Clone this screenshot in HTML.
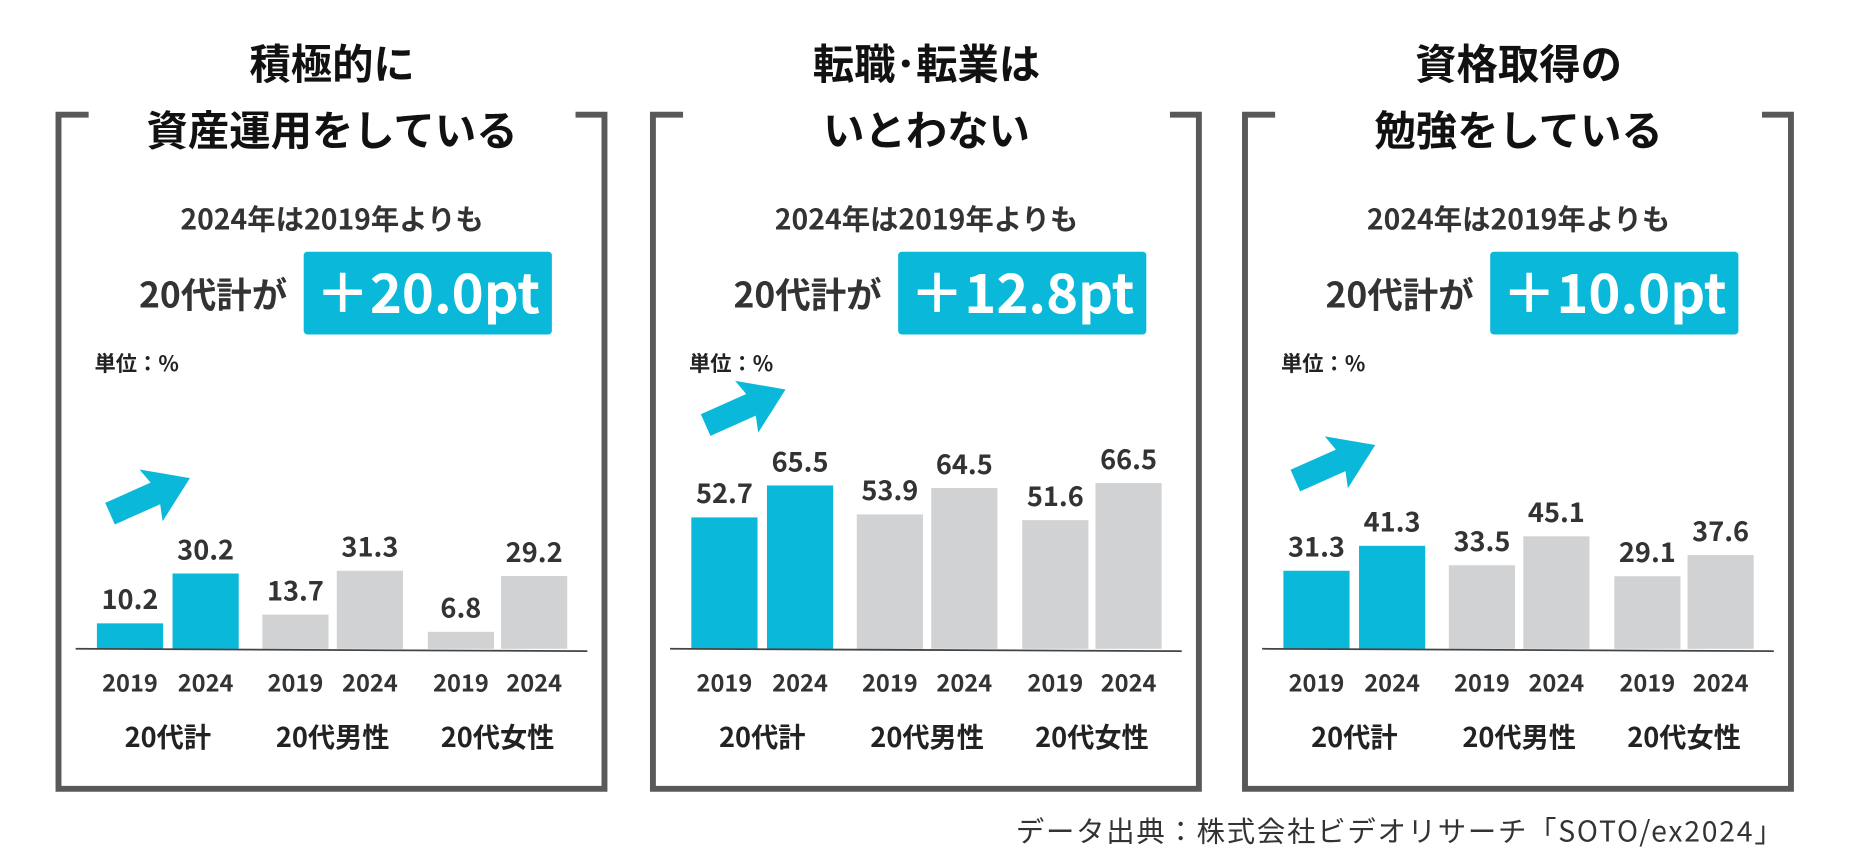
<!DOCTYPE html>
<html><head><meta charset="utf-8">
<style>
html,body{margin:0;padding:0;background:#fff;}
svg{display:block;}
text{font-family:"Noto Sans CJK JP","Liberation Sans",sans-serif;}
</style></head>
<body>
<svg id="chart" width="1853" height="862" viewBox="0 0 1568 729.4" xmlns="http://www.w3.org/2000/svg"></svg>
<script>
const panelTitles1 = ["積極的に","転職･転業は","資格取得の"];
const panelTitles2 = ["資産運用をしている","いとわない","勉強をしている"];
const diffLabels = ["＋20.0pt","＋12.8pt","＋10.0pt"];
const groupNames = ["20代計","20代男性","20代女性"];
const yearNames = ["2019","2024"];
const values1 = [10.2,30.2,13.7,31.3,6.8,29.2];
const values2 = [52.7,65.5,53.9,64.5,51.6,66.5];
const values3 = [31.3,41.3,33.5,45.1,29.1,37.6];
const allValues = [values1,values2,values3];

const NS="http://www.w3.org/2000/svg";
const svg=document.getElementById('chart');
function mk(tag,attrs,parent){const e=document.createElementNS(NS,tag);for(const k in attrs)e.setAttribute(k,attrs[k]);(parent||svg).appendChild(e);return e;}
const offsets=[0,503,1004];
const baseY=549, scaleY=2.11;
function yScale(v){return baseY - v*scaleY;}
const barX=[82,146,222,285,362,424], barW=56;
const arrowC=[[126,420],[127,345],[125,392]];

for(let p=0;p<3;p++){
  const o=offsets[p];
  const g=mk('g',{transform:`translate(${o},0)`});
  
  
  const fr=mk('path',{d:`M75,97 L49.5,97 L49.5,667.5 L511.5,667.5 L511.5,97 L487,97`,fill:'none',stroke:'#595959','stroke-width':5},g);
  
  
  const t1=mk('text',{x:281,y:67,'text-anchor':'middle','font-size':35,'font-weight':'bold',fill:'#111'},g);t1.textContent=panelTitles1[p];
  
  
  const t2=mk('text',{x:281,y:123,'text-anchor':'middle','font-size':35,'font-weight':'bold',fill:'#111'},g);t2.textContent=panelTitles2[p];
  
  
  const s1=mk('text',{x:281,y:194,'text-anchor':'middle','font-size':24,'font-weight':'bold',fill:'#333'},g);s1.textContent="2024年は2019年よりも";
  
  
  const s2=mk('text',{x:243,y:260,'text-anchor':'end','font-size':30,'font-weight':'bold',fill:'#333'},g);s2.textContent="20代計が";
  
  
  const bx=mk('rect',{x:257,y:213,width:210,height:70,rx:3,fill:'#0ab8d9'},g);
  
  
  const bt=mk('text',{x:362,y:265,'text-anchor':'middle','font-size':46,'font-weight':'bold',fill:'#fff'},g);bt.textContent=diffLabels[p];
  
  
  const un=mk('text',{x:80,y:314,'font-size':18,'font-weight':'bold',fill:'#222'},g);un.textContent="単位：%";
  
  
  const vals=allValues[p];
  for(let i=0;i<6;i++){
    const top=yScale(vals[i]);
    const r=mk('rect',{x:barX[i],y:top,width:barW,height:baseY-top,fill:i<2?'#0ab8d9':'#d1d2d4'},g);
    
    
    const vt=mk('text',{x:barX[i]+barW/2,y:top-12,'text-anchor':'middle','font-size':23,'font-weight':'bold',fill:'#333'},g);vt.textContent=vals[i].toFixed(1);
    
    
    const yt=mk('text',{x:barX[i]+barW/2,y:585,'text-anchor':'middle','font-size':20,'font-weight':'bold',fill:'#333'},g);yt.textContent=yearNames[i%2];
    
    
  }
  for(let k=0;k<3;k++){
    const gt=mk('text',{x:(barX[2*k]+barX[2*k+1]+barW)/2,y:632,'text-anchor':'middle','font-size':23,'font-weight':'bold',fill:'#222'},g);gt.textContent=groupNames[k];
    
    
  }
  const ax=mk('line',{x1:64,y1:549,x2:497,y2:551,stroke:'#444','stroke-width':1.5},g);
  
  
  const [cx,cy]=arrowC[p];
  const ar=mk('polygon',{points:'-36,-10 6,-10 2,-24 38,0 2,24 6,10 -36,10',fill:'#0ab8d9',transform:`translate(${cx},${cy}) rotate(-24)`},g);
  
  
}
const src=mk('text',{x:1510,y:712,'text-anchor':'end','font-size':24,'letter-spacing':1.5,fill:'#333'});
src.textContent="データ出典：株式会社ビデオリサーチ「SOTO/ex2024」";


</script>
</body></html>
